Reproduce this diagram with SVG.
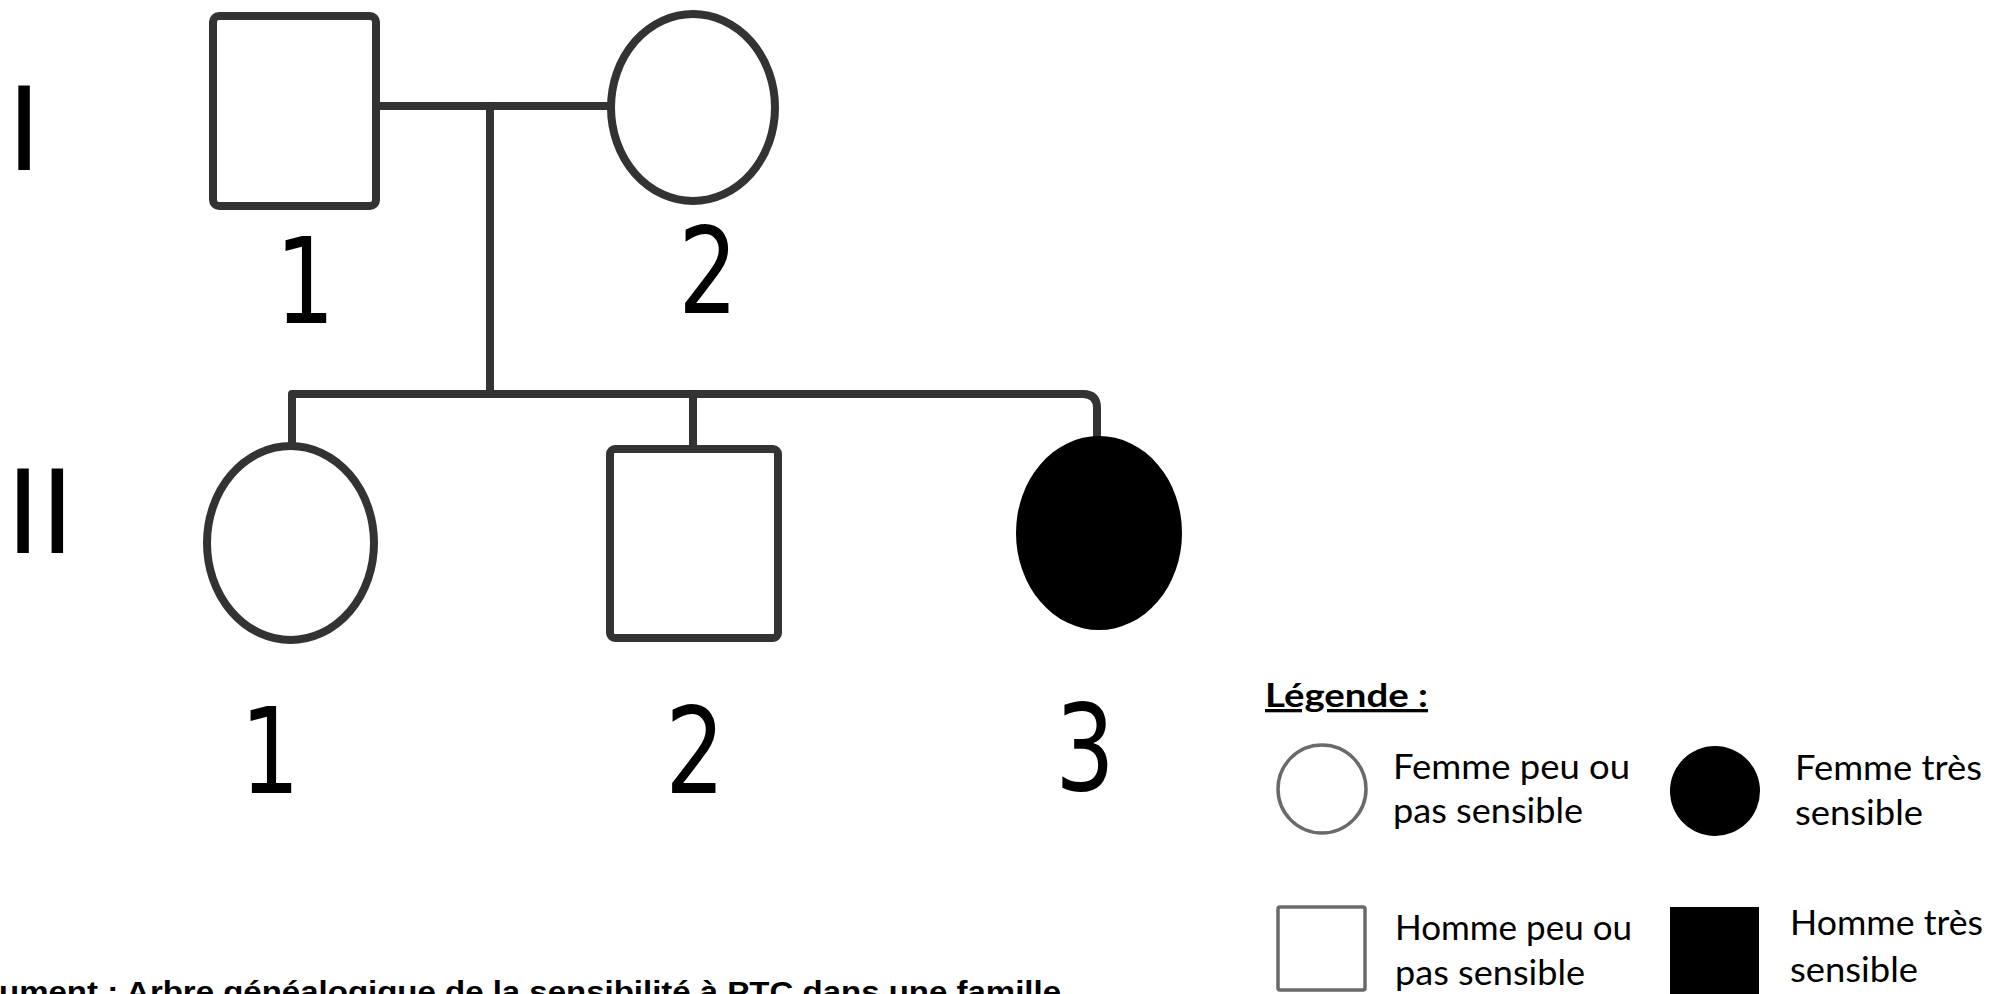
<svg xmlns="http://www.w3.org/2000/svg" width="2007" height="994" viewBox="0 0 2007 994">
<style>
.ln{fill:none;stroke:#333;stroke-width:8;stroke-linecap:round;stroke-linejoin:round}
.sym{fill:#fff;stroke:#333;stroke-width:8}
.aff{fill:#000;stroke:none}
.num{font-family:"DejaVu Sans","Liberation Sans",sans-serif;font-size:120px;fill:#000}
.gen{font-family:"Liberation Sans",Arial,sans-serif;font-size:123px;fill:#000}
.leg{font-family:Lato,"Liberation Sans",sans-serif;font-size:35px;fill:#000}
.legt{font-family:Lato,"Liberation Sans",sans-serif;font-size:33px;font-weight:bold;fill:#000;text-decoration:underline}
.lsym{fill:#fff;stroke:#6a6a6a;stroke-width:3.5}
.cap{font-family:"Liberation Sans",Arial,sans-serif;font-size:30px;font-weight:bold;fill:#000}
</style>
<rect width="2007" height="994" fill="#fff"/>
<g id="generations">
<text class="gen" x="7" y="170">I</text>
<text class="gen" x="6" y="553">II</text>
</g>
<g id="connectors">
<path class="ln" d="M376,106 H611"/>
<path class="ln" d="M490,106 V394"/>
<path class="ln" d="M292,446 V394 H1083 Q1097,394 1097,408 V438"/>
<path class="ln" d="M693,394 V449"/>
</g>
<g id="I-1">
<rect class="sym" x="213" y="16" width="163" height="190" rx="6"/>
<text class="num" transform="translate(305,323) scale(0.78,1)" text-anchor="middle">1</text>
</g>
<g id="I-2">
<ellipse class="sym" cx="693" cy="107.5" rx="82" ry="93.5"/>
<text class="num" transform="translate(708,313) scale(0.78,1)" text-anchor="middle">2</text>
</g>
<g id="II-1">
<ellipse class="sym" cx="290.5" cy="543" rx="83.5" ry="97"/>
<text class="num" transform="translate(270,793) scale(0.78,1)" text-anchor="middle">1</text>
</g>
<g id="II-2">
<rect class="sym" x="610" y="449" width="168" height="189" rx="5"/>
<text class="num" transform="translate(695,793) scale(0.78,1)" text-anchor="middle">2</text>
</g>
<g id="II-3">
<ellipse class="aff" cx="1099" cy="533" rx="83" ry="97"/>
<text class="num" transform="translate(1085,790) scale(0.78,1)" text-anchor="middle">3</text>
</g>
<g id="legend">
<text class="legt" x="1265" y="707" textLength="163" lengthAdjust="spacingAndGlyphs">Légende :</text>
<g id="leg-femme-peu">
<circle class="lsym" cx="1322" cy="789" r="44"/>
<text class="leg" x="1393" y="779" textLength="237" lengthAdjust="spacingAndGlyphs">Femme peu ou</text>
<text class="leg" x="1393" y="823" textLength="190" lengthAdjust="spacingAndGlyphs">pas sensible</text>
</g>
<g id="leg-femme-tres">
<circle class="aff" cx="1715" cy="791" r="45"/>
<text class="leg" x="1795" y="780" textLength="187" lengthAdjust="spacingAndGlyphs">Femme très</text>
<text class="leg" x="1795" y="825" textLength="128" lengthAdjust="spacingAndGlyphs">sensible</text>
</g>
<g id="leg-homme-peu">
<rect class="lsym" x="1278" y="907" width="87" height="83" rx="2"/>
<text class="leg" x="1395" y="940" textLength="237" lengthAdjust="spacingAndGlyphs">Homme peu ou</text>
<text class="leg" x="1395" y="985" textLength="190" lengthAdjust="spacingAndGlyphs">pas sensible</text>
</g>
<g id="leg-homme-tres">
<rect class="aff" x="1670" y="907" width="89" height="90"/>
<text class="leg" x="1790" y="935" textLength="193" lengthAdjust="spacingAndGlyphs">Homme très</text>
<text class="leg" x="1790" y="982" textLength="128" lengthAdjust="spacingAndGlyphs">sensible</text>
</g>
</g>
<text class="cap" x="-1" y="1002" textLength="1062" lengthAdjust="spacingAndGlyphs">ument : Arbre généalogique de la sensibilité à PTC dans une famille</text>
</svg>
